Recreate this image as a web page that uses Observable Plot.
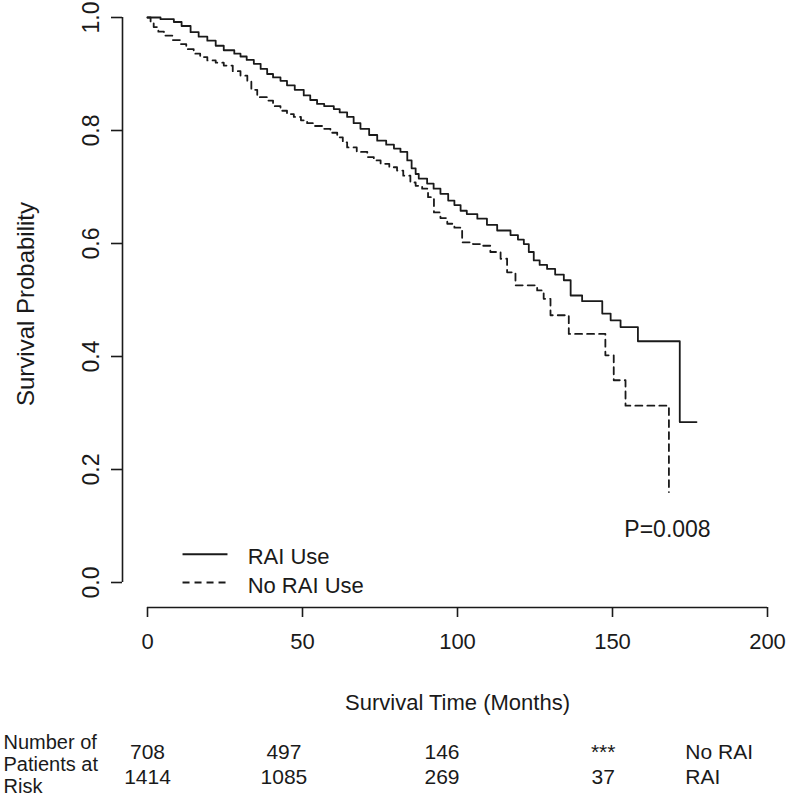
<!DOCTYPE html>
<html>
<head>
<meta charset="utf-8">
<script src="https://cdn.jsdelivr.net/npm/d3@7"></script>
<script src="https://cdn.jsdelivr.net/npm/@observablehq/plot@0.6"></script>
<style>
  body { margin: 0; background: #fff; }
  #chart svg { display: block; }
</style>
</head>
<body>
<div id="chart"></div>
<script>
// ---- Kaplan-Meier curves (step-after: survival from this time onward) ----
const raiTime = [0, 4.2, 8.5, 11, 13.9, 16.5, 19.3, 22, 24.6, 28, 30, 32, 34.3, 36.5, 38.6, 40.5, 42.9, 45, 47.5, 50.4, 52.5, 54.7, 57, 60.1, 62, 64.4, 66.5, 68.7, 71.5, 74.1, 77, 79.5, 81.6, 83.8, 85.2, 86.5, 87.5, 90.2, 92.3, 94.5, 97, 99, 101, 103, 106.4, 109.5, 112.8, 117.1, 119.5, 121.4, 123, 124.6, 126.5, 128.9, 131.5, 134.3, 136.5, 140.2, 146.7, 149.4, 152.6, 158.2, 171.7, 177.1];
const raiSurv = [1.0, 0.997, 0.992, 0.985, 0.974, 0.966, 0.959, 0.950, 0.942, 0.936, 0.931, 0.925, 0.918, 0.909, 0.900, 0.894, 0.888, 0.880, 0.872, 0.862, 0.854, 0.847, 0.843, 0.838, 0.832, 0.824, 0.813, 0.803, 0.792, 0.782, 0.775, 0.768, 0.762, 0.747, 0.733, 0.723, 0.715, 0.706, 0.697, 0.688, 0.676, 0.668, 0.658, 0.652, 0.644, 0.633, 0.623, 0.615, 0.607, 0.599, 0.585, 0.570, 0.562, 0.555, 0.545, 0.535, 0.508, 0.498, 0.476, 0.464, 0.452, 0.427, 0.284, 0.284];

const noRaiTime = [0, 1, 2, 3.5, 5.3, 8, 10.6, 12.5, 14.9, 17, 19.3, 22, 24.6, 27.5, 30, 32.2, 33.5, 35.4, 38.6, 40.5, 42.9, 45, 47.2, 49.5, 51.5, 54, 56.9, 59, 61.2, 63, 64.4, 67.5, 70.9, 73, 75.2, 78, 80.5, 82.5, 84.8, 86.5, 88.6, 90.5, 92.4, 94.5, 96.7, 99, 101.5, 105, 107.4, 110.6, 113.9, 116, 118.7, 125.7, 127.8, 130, 135.9, 147.7, 150.4, 154.2, 168.2];
const noRaiSurv = [1.0, 0.990, 0.983, 0.975, 0.968, 0.960, 0.953, 0.944, 0.936, 0.930, 0.924, 0.920, 0.915, 0.905, 0.897, 0.888, 0.872, 0.859, 0.853, 0.843, 0.835, 0.829, 0.824, 0.818, 0.813, 0.808, 0.803, 0.796, 0.788, 0.779, 0.770, 0.762, 0.753, 0.747, 0.741, 0.735, 0.729, 0.720, 0.708, 0.702, 0.697, 0.682, 0.655, 0.645, 0.635, 0.628, 0.602, 0.599, 0.596, 0.585, 0.573, 0.549, 0.526, 0.517, 0.502, 0.473, 0.440, 0.402, 0.358, 0.313, 0.160];

// ---- axes ----
const xTicks = [0, 50, 100, 150, 200];
const yTicks = [0, 0.2, 0.4, 0.6, 0.8, 1.0];
const xLabel = "Survival Time (Months)";
const yLabel = "Survival Probability";

// ---- legend / annotation ----
const legendLabels = ["RAI Use", "No RAI Use"];
const pLabel = "P=0.008";

// ---- number at risk table ----
const riskTitle = "Number of\nPatients at\nRisk";
const riskColumnsAt = [0, 44, 95, 147];
const riskNoRai = ["708", "497", "146", "***"];
const riskRai = ["1414", "1085", "269", "37"];
const riskGroups = ["No RAI", "RAI"];
const riskGroupAt = 173.5;

const rai = raiTime.map((t, i) => ({t, s: raiSurv[i]}));
const noRai = noRaiTime.map((t, i) => ({t, s: noRaiSurv[i]}));
const rowNoRai = riskNoRai.map((text, i) => ({x: riskColumnsAt[i], text}));
const rowRai = riskRai.map((text, i) => ({x: riskColumnsAt[i], text}));

const ink = "#1a1a1a";
const font = "'Liberation Sans', Arial, sans-serif";
const dash = "7,5";

const chart = Plot.plot({
  width: 788,
  height: 801,
  marginLeft: 147,
  marginRight: 21,
  marginTop: 17,
  marginBottom: 219,
  style: {fontFamily: font, color: ink, background: "#fff"},
  x: {domain: [0, 200], axis: null},
  y: {domain: [0, 1], axis: null},
  marks: [
    // y axis (detached, R style)
    Plot.ruleX([0], {x: d => d, y1: 0, y2: 1, dx: -25, stroke: ink, strokeWidth: 1.6}),
    Plot.axisY({ticks: yTicks, tickSize: 11, dx: -25, tickPadding: 13, tickRotate: -90,
      tickFormat: d => d.toFixed(1), fontSize: 23, lineAnchor: "bottom", label: null,
      stroke: ink, strokeWidth: 1.6, fill: ink}),
    // x axis
    Plot.ruleY([0], {y: d => d, x1: 0, x2: 200, dy: 25, stroke: ink, strokeWidth: 1.6}),
    Plot.axisX({ticks: xTicks, tickSize: 10, dy: 25, tickPadding: 16, fontSize: 22,
      tickFormat: d => String(d), label: null, stroke: ink, strokeWidth: 1.6, fill: ink}),
    // axis titles
    Plot.text([yLabel], {text: d => d, frameAnchor: "left", rotate: -90, dx: -114, dy: 4,
      lineAnchor: "bottom", textAnchor: "middle", fontSize: 24, fill: ink}),
    Plot.text([xLabel], {text: d => d, frameAnchor: "bottom", dy: 120, lineAnchor: "middle",
      textAnchor: "middle", fontSize: 22, fill: ink}),
    // survival curves
    Plot.line(rai, {x: "t", y: "s", curve: "step-after", stroke: ink, strokeWidth: 1.8}),
    Plot.line(noRai, {x: "t", y: "s", curve: "step-after", stroke: ink, strokeWidth: 1.8,
      strokeDasharray: dash}),
    // p value
    Plot.text([pLabel], {text: d => d, frameAnchor: "bottom-right", dx: -100, dy: -53,
      textAnchor: "middle", lineAnchor: "middle", fontSize: 23, fill: ink}),
    // legend
    Plot.link([legendLabels[0]], {x1: 11.3, x2: 25.8, y1: 0.05, y2: 0.05,
      stroke: ink, strokeWidth: 1.8}),
    Plot.link([legendLabels[1]], {x1: 11.3, x2: 25.8, y1: 0, y2: 0,
      stroke: ink, strokeWidth: 1.8, strokeDasharray: dash}),
    Plot.text(legendLabels, {x: 32.3, y: (d, i) => 0.05 - i * 0.05, text: d => d, dy: 3,
      textAnchor: "start", lineAnchor: "middle", fontSize: 22, fill: ink}),
    // number at risk table
    Plot.text([riskTitle], {text: d => d, frameAnchor: "bottom-left", dx: -144, dy: 151,
      textAnchor: "start", lineAnchor: "top", lineHeight: 1.1, fontSize: 20, fill: ink}),
    Plot.text(rowNoRai, {x: "x", text: "text", frameAnchor: "bottom",
      dy: 170, textAnchor: "middle", lineAnchor: "middle", fontSize: 21, fill: ink}),
    Plot.text(rowRai, {x: "x", text: "text", frameAnchor: "bottom",
      dy: 195, textAnchor: "middle", lineAnchor: "middle", fontSize: 21, fill: ink}),
    Plot.text([riskGroups[0]], {x: riskGroupAt, text: d => d, frameAnchor: "bottom",
      dy: 170, textAnchor: "start", lineAnchor: "middle", fontSize: 21, fill: ink}),
    Plot.text([riskGroups[1]], {x: riskGroupAt, text: d => d, frameAnchor: "bottom",
      dy: 195, textAnchor: "start", lineAnchor: "middle", fontSize: 21, fill: ink})
  ]
});
document.getElementById("chart").appendChild(chart);
</script>
</body>
</html>
